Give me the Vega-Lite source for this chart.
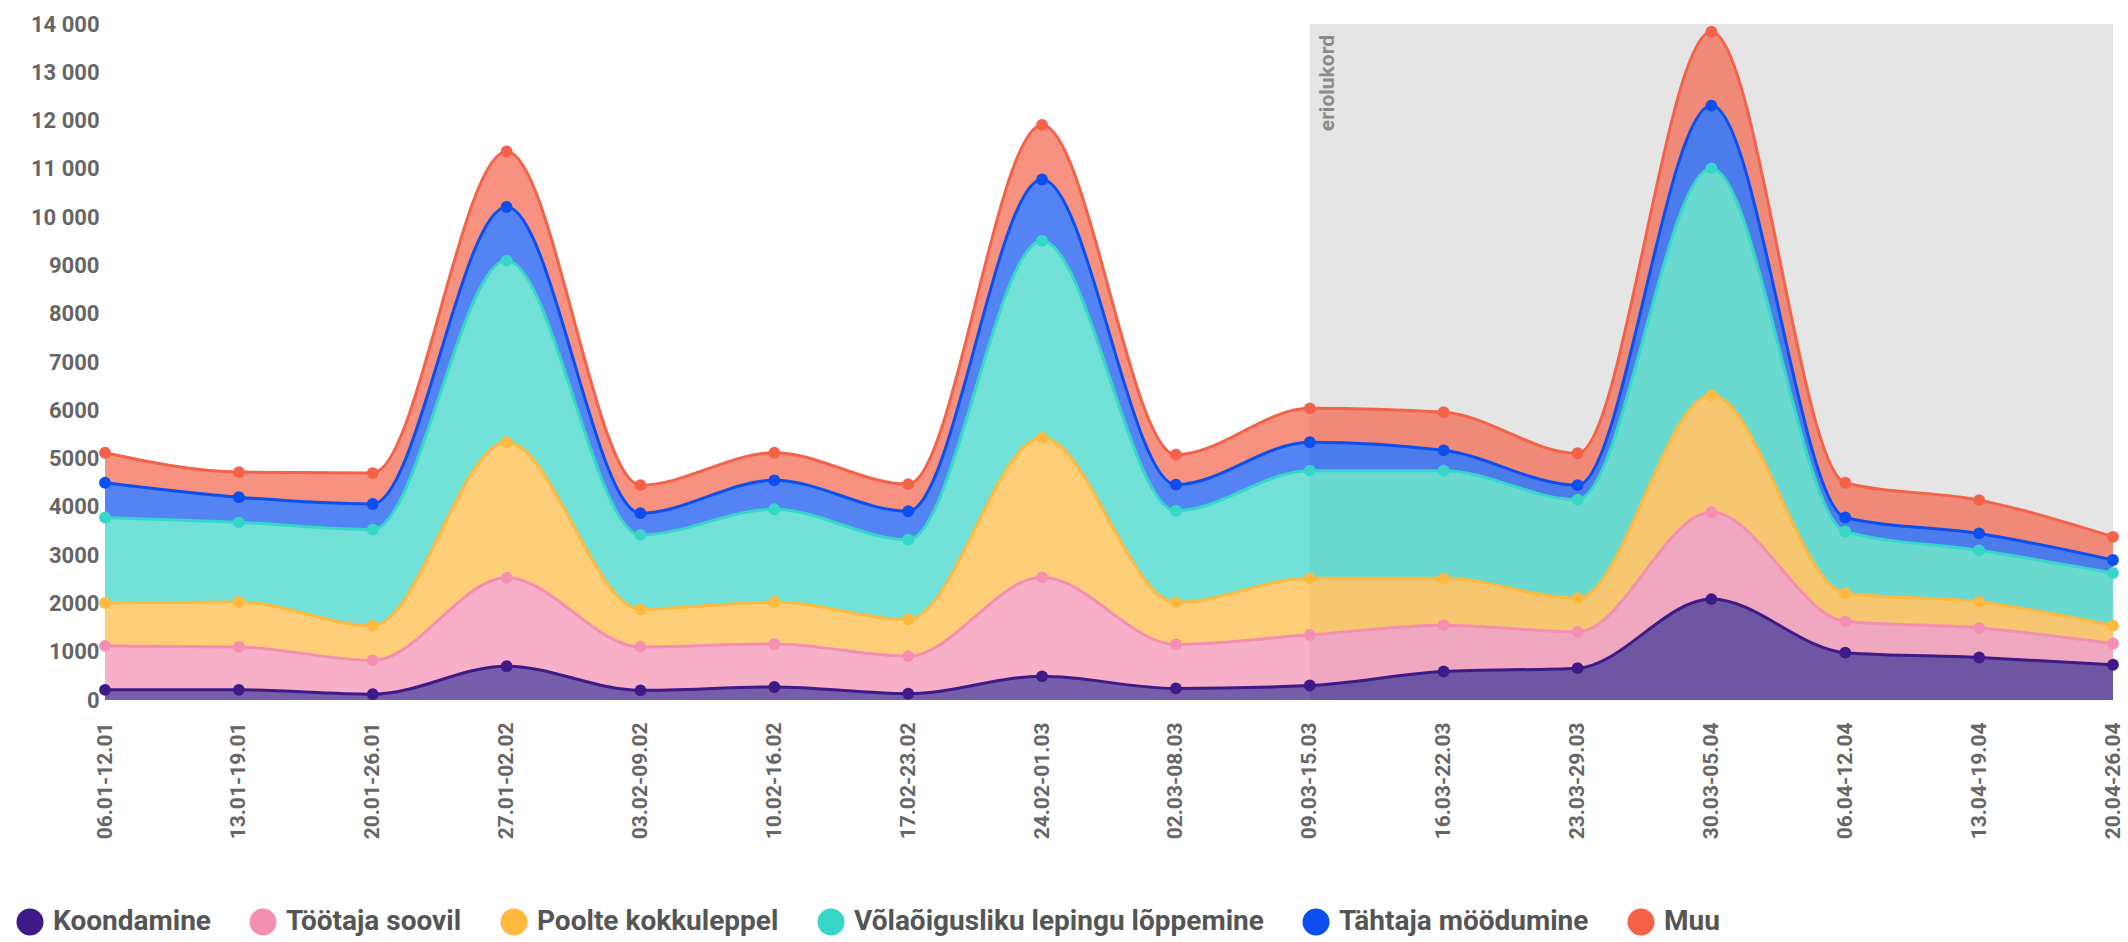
{
  "$schema": "https://vega.github.io/schema/vega-lite/v6.json",
  "autosize": {"type": "none"},
  "padding": {"left": 105, "top": 24, "right": 15, "bottom": 242},
  "width": 2008,
  "height": 676,
  "background": "white",
  "config": {
    "view": {"stroke": null},
    "font": "Roboto",
    "axis": {"labelFont": "Roboto", "labelFontWeight": "bold", "labelColor": "#666666"},
    "legend": {"labelFont": "Roboto", "labelFontWeight": "bold"}
  },
  "datasets": {
    "weeks": [
      {"w": "06.01-12.01", "s": "Koondamine", "v": 210, "o": 1},
      {"w": "06.01-12.01", "s": "Töötaja soovil", "v": 910, "o": 2},
      {"w": "06.01-12.01", "s": "Poolte kokkuleppel", "v": 890, "o": 3},
      {"w": "06.01-12.01", "s": "Võlaõigusliku lepingu lõppemine", "v": 1770, "o": 4},
      {"w": "06.01-12.01", "s": "Tähtaja möödumine", "v": 720, "o": 5},
      {"w": "06.01-12.01", "s": "Muu", "v": 620, "o": 6},
      {"w": "13.01-19.01", "s": "Koondamine", "v": 210, "o": 1},
      {"w": "13.01-19.01", "s": "Töötaja soovil", "v": 890, "o": 2},
      {"w": "13.01-19.01", "s": "Poolte kokkuleppel", "v": 930, "o": 3},
      {"w": "13.01-19.01", "s": "Võlaõigusliku lepingu lõppemine", "v": 1650, "o": 4},
      {"w": "13.01-19.01", "s": "Tähtaja möödumine", "v": 520, "o": 5},
      {"w": "13.01-19.01", "s": "Muu", "v": 520, "o": 6},
      {"w": "20.01-26.01", "s": "Koondamine", "v": 120, "o": 1},
      {"w": "20.01-26.01", "s": "Töötaja soovil", "v": 700, "o": 2},
      {"w": "20.01-26.01", "s": "Poolte kokkuleppel", "v": 720, "o": 3},
      {"w": "20.01-26.01", "s": "Võlaõigusliku lepingu lõppemine", "v": 1990, "o": 4},
      {"w": "20.01-26.01", "s": "Tähtaja möödumine", "v": 530, "o": 5},
      {"w": "20.01-26.01", "s": "Muu", "v": 640, "o": 6},
      {"w": "27.01-02.02", "s": "Koondamine", "v": 700, "o": 1},
      {"w": "27.01-02.02", "s": "Töötaja soovil", "v": 1830, "o": 2},
      {"w": "27.01-02.02", "s": "Poolte kokkuleppel", "v": 2810, "o": 3},
      {"w": "27.01-02.02", "s": "Võlaõigusliku lepingu lõppemine", "v": 3760, "o": 4},
      {"w": "27.01-02.02", "s": "Tähtaja möödumine", "v": 1110, "o": 5},
      {"w": "27.01-02.02", "s": "Muu", "v": 1150, "o": 6},
      {"w": "03.02-09.02", "s": "Koondamine", "v": 200, "o": 1},
      {"w": "03.02-09.02", "s": "Töötaja soovil", "v": 900, "o": 2},
      {"w": "03.02-09.02", "s": "Poolte kokkuleppel", "v": 780, "o": 3},
      {"w": "03.02-09.02", "s": "Võlaõigusliku lepingu lõppemine", "v": 1540, "o": 4},
      {"w": "03.02-09.02", "s": "Tähtaja möödumine", "v": 450, "o": 5},
      {"w": "03.02-09.02", "s": "Muu", "v": 580, "o": 6},
      {"w": "10.02-16.02", "s": "Koondamine", "v": 270, "o": 1},
      {"w": "10.02-16.02", "s": "Töötaja soovil", "v": 890, "o": 2},
      {"w": "10.02-16.02", "s": "Poolte kokkuleppel", "v": 870, "o": 3},
      {"w": "10.02-16.02", "s": "Võlaõigusliku lepingu lõppemine", "v": 1920, "o": 4},
      {"w": "10.02-16.02", "s": "Tähtaja möödumine", "v": 600, "o": 5},
      {"w": "10.02-16.02", "s": "Muu", "v": 570, "o": 6},
      {"w": "17.02-23.02", "s": "Koondamine", "v": 130, "o": 1},
      {"w": "17.02-23.02", "s": "Töötaja soovil", "v": 780, "o": 2},
      {"w": "17.02-23.02", "s": "Poolte kokkuleppel", "v": 760, "o": 3},
      {"w": "17.02-23.02", "s": "Võlaõigusliku lepingu lõppemine", "v": 1650, "o": 4},
      {"w": "17.02-23.02", "s": "Tähtaja möödumine", "v": 590, "o": 5},
      {"w": "17.02-23.02", "s": "Muu", "v": 560, "o": 6},
      {"w": "24.02-01.03", "s": "Koondamine", "v": 490, "o": 1},
      {"w": "24.02-01.03", "s": "Töötaja soovil", "v": 2050, "o": 2},
      {"w": "24.02-01.03", "s": "Poolte kokkuleppel", "v": 2890, "o": 3},
      {"w": "24.02-01.03", "s": "Võlaõigusliku lepingu lõppemine", "v": 4080, "o": 4},
      {"w": "24.02-01.03", "s": "Tähtaja möödumine", "v": 1270, "o": 5},
      {"w": "24.02-01.03", "s": "Muu", "v": 1130, "o": 6},
      {"w": "02.03-08.03", "s": "Koondamine", "v": 240, "o": 1},
      {"w": "02.03-08.03", "s": "Töötaja soovil", "v": 910, "o": 2},
      {"w": "02.03-08.03", "s": "Poolte kokkuleppel", "v": 870, "o": 3},
      {"w": "02.03-08.03", "s": "Võlaõigusliku lepingu lõppemine", "v": 1900, "o": 4},
      {"w": "02.03-08.03", "s": "Tähtaja möödumine", "v": 540, "o": 5},
      {"w": "02.03-08.03", "s": "Muu", "v": 620, "o": 6},
      {"w": "09.03-15.03", "s": "Koondamine", "v": 300, "o": 1},
      {"w": "09.03-15.03", "s": "Töötaja soovil", "v": 1050, "o": 2},
      {"w": "09.03-15.03", "s": "Poolte kokkuleppel", "v": 1170, "o": 3},
      {"w": "09.03-15.03", "s": "Võlaõigusliku lepingu lõppemine", "v": 2230, "o": 4},
      {"w": "09.03-15.03", "s": "Tähtaja möödumine", "v": 590, "o": 5},
      {"w": "09.03-15.03", "s": "Muu", "v": 700, "o": 6},
      {"w": "16.03-22.03", "s": "Koondamine", "v": 590, "o": 1},
      {"w": "16.03-22.03", "s": "Töötaja soovil", "v": 960, "o": 2},
      {"w": "16.03-22.03", "s": "Poolte kokkuleppel", "v": 970, "o": 3},
      {"w": "16.03-22.03", "s": "Võlaõigusliku lepingu lõppemine", "v": 2230, "o": 4},
      {"w": "16.03-22.03", "s": "Tähtaja möödumine", "v": 420, "o": 5},
      {"w": "16.03-22.03", "s": "Muu", "v": 790, "o": 6},
      {"w": "23.03-29.03", "s": "Koondamine", "v": 660, "o": 1},
      {"w": "23.03-29.03", "s": "Töötaja soovil", "v": 750, "o": 2},
      {"w": "23.03-29.03", "s": "Poolte kokkuleppel", "v": 700, "o": 3},
      {"w": "23.03-29.03", "s": "Võlaõigusliku lepingu lõppemine", "v": 2040, "o": 4},
      {"w": "23.03-29.03", "s": "Tähtaja möödumine", "v": 300, "o": 5},
      {"w": "23.03-29.03", "s": "Muu", "v": 660, "o": 6},
      {"w": "30.03-05.04", "s": "Koondamine", "v": 2090, "o": 1},
      {"w": "30.03-05.04", "s": "Töötaja soovil", "v": 1800, "o": 2},
      {"w": "30.03-05.04", "s": "Poolte kokkuleppel", "v": 2420, "o": 3},
      {"w": "30.03-05.04", "s": "Võlaõigusliku lepingu lõppemine", "v": 4700, "o": 4},
      {"w": "30.03-05.04", "s": "Tähtaja möödumine", "v": 1300, "o": 5},
      {"w": "30.03-05.04", "s": "Muu", "v": 1530, "o": 6},
      {"w": "06.04-12.04", "s": "Koondamine", "v": 980, "o": 1},
      {"w": "06.04-12.04", "s": "Töötaja soovil", "v": 650, "o": 2},
      {"w": "06.04-12.04", "s": "Poolte kokkuleppel", "v": 580, "o": 3},
      {"w": "06.04-12.04", "s": "Võlaõigusliku lepingu lõppemine", "v": 1280, "o": 4},
      {"w": "06.04-12.04", "s": "Tähtaja möödumine", "v": 290, "o": 5},
      {"w": "06.04-12.04", "s": "Muu", "v": 720, "o": 6},
      {"w": "13.04-19.04", "s": "Koondamine", "v": 880, "o": 1},
      {"w": "13.04-19.04", "s": "Töötaja soovil", "v": 610, "o": 2},
      {"w": "13.04-19.04", "s": "Poolte kokkuleppel", "v": 540, "o": 3},
      {"w": "13.04-19.04", "s": "Võlaõigusliku lepingu lõppemine", "v": 1070, "o": 4},
      {"w": "13.04-19.04", "s": "Tähtaja möödumine", "v": 350, "o": 5},
      {"w": "13.04-19.04", "s": "Muu", "v": 690, "o": 6},
      {"w": "20.04-26.04", "s": "Koondamine", "v": 730, "o": 1},
      {"w": "20.04-26.04", "s": "Töötaja soovil", "v": 440, "o": 2},
      {"w": "20.04-26.04", "s": "Poolte kokkuleppel", "v": 370, "o": 3},
      {"w": "20.04-26.04", "s": "Võlaõigusliku lepingu lõppemine", "v": 1090, "o": 4},
      {"w": "20.04-26.04", "s": "Tähtaja möödumine", "v": 270, "o": 5},
      {"w": "20.04-26.04", "s": "Muu", "v": 480, "o": 6}
    ],
    "band": [
      {"w": "09.03-15.03", "w2": "20.04-26.04", "label": "eriolukord"}
    ]
  },
  "encoding": {
    "x": {
      "field": "w",
      "type": "ordinal",
      "scale": {
        "type": "point",
        "padding": 0,
        "domain": ["06.01-12.01", "13.01-19.01", "20.01-26.01", "27.01-02.02", "03.02-09.02", "10.02-16.02", "17.02-23.02", "24.02-01.03", "02.03-08.03", "09.03-15.03", "16.03-22.03", "23.03-29.03", "30.03-05.04", "06.04-12.04", "13.04-19.04", "20.04-26.04"]
      },
      "axis": {
        "title": null,
        "labelAngle": 270,
        "labelFontSize": 21,
        "labelPadding": 22,
        "ticks": false,
        "domain": false,
        "grid": false
      }
    }
  },
  "layer": [
    {
      "data": {"name": "band"},
      "mark": {"type": "rect", "fill": "#000000", "opacity": 0.1},
      "encoding": {"x2": {"field": "w2"}}
    },
    {
      "data": {"name": "band"},
      "mark": {"type": "text", "angle": 270, "align": "right", "baseline": "middle", "dx": -11, "dy": 18, "fontSize": 21, "fontWeight": "bold", "color": "#8a8a8a", "font": "Roboto"},
      "encoding": {
        "y": {"datum": 14000, "type": "quantitative"},
        "text": {"field": "label"}
      }
    },
    {
      "data": {"name": "weeks"},
      "layer": [
        {
          "mark": {"type": "area", "interpolate": "monotone", "fillOpacity": 0.7}
        },
        {
          "mark": {"type": "line", "interpolate": "monotone", "strokeWidth": 3}
        },
        {
          "mark": {"type": "point", "filled": true, "size": 140, "opacity": 1}
        }
      ],
      "encoding": {
        "y": {
          "field": "v",
          "type": "quantitative",
          "stack": "zero",
          "scale": {"domain": [0, 14000], "nice": false},
          "axis": {
            "title": null,
            "values": [0, 1000, 2000, 3000, 4000, 5000, 6000, 7000, 8000, 9000, 10000, 11000, 12000, 13000, 14000],
            "labelExpr": "datum.value >= 10000 ? replace(format(datum.value, ','), ',', ' ') : format(datum.value, 'd')",
            "labelFontSize": 22,
            "labelPadding": 6,
            "ticks": false,
            "domain": false,
            "gridColor": "#e0e0e0",
            "gridWidth": 2
          }
        },
        "color": {
          "field": "s",
          "type": "nominal",
          "scale": {
            "domain": ["Koondamine", "Töötaja soovil", "Poolte kokkuleppel", "Võlaõigusliku lepingu lõppemine", "Tähtaja möödumine", "Muu"],
            "range": ["#3d1a87", "#f48fb1", "#ffb940", "#36d6c8", "#0b4ff0", "#f4624a"]
          },
          "legend": {
            "title": null,
            "orient": "none",
            "direction": "horizontal",
            "legendX": -89,
            "legendY": 884,
            "symbolType": "circle",
            "symbolSize": 729,
            "symbolOpacity": 1,
            "symbolStrokeWidth": 0,
            "labelFontSize": 28,
            "labelColor": "#555555",
            "labelOffset": 9,
            "columnPadding": 38,
            "padding": 0,
            "labelLimit": 600
          }
        },
        "order": {"field": "o", "type": "quantitative"}
      }
    }
  ]
}
